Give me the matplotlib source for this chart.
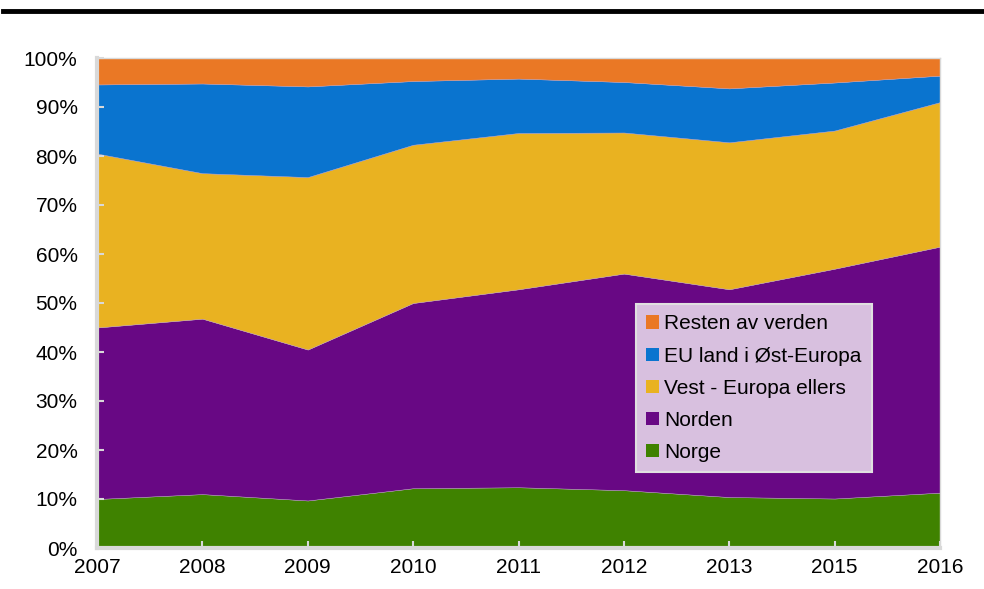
import numpy as np
import matplotlib.pyplot as plt
from matplotlib.patches import Patch

plt.rcParams['font.family'] = ['Liberation Sans', 'DejaVu Sans']

years = ['2007', '2008', '2009', '2010', '2011', '2012', '2013', '2015', '2016']

# cumulative tops (%)
top_norge = [10.0, 11.0, 9.7, 12.2, 12.4, 11.8, 10.4, 10.1, 11.3]
top_norden = [45.0, 46.8, 40.5, 50.0, 52.8, 56.0, 52.8, 57.0, 61.5]
top_vest = [80.5, 76.5, 75.7, 82.3, 84.7, 84.8, 82.8, 85.2, 91.0]
top_eu_ost = [94.6, 94.8, 94.2, 95.3, 95.8, 95.1, 93.8, 95.0, 96.4]
top_resten = [100.0] * 9

labels = ['Norge', 'Norden', 'Vest - Europa ellers', 'EU land i Øst-Europa', 'Resten av verden']
colors = ['#3f8200', '#680884', '#e9b221', '#0a74cf', '#ea7825']

tops = np.array([top_norge, top_norden, top_vest, top_eu_ost, top_resten])
shares = np.diff(np.vstack([np.zeros(len(years)), tops]), axis=0)

fig = plt.figure(figsize=(9.84, 5.89), dpi=100)
ax = fig.add_axes([97 / 984, 1 - 548 / 589, (940 - 97) / 984, (548 - 58) / 589])

x = np.arange(len(years))
ax.stackplot(x, shares, colors=colors, labels=labels, edgecolor='#b8a0c0', linewidth=0.3)

ax.set_xlim(0, len(years) - 1)
ax.set_ylim(0, 100)
ax.set_xticks(x)
ax.set_xticklabels(years)
ax.set_yticks(np.arange(0, 101, 10))
ax.set_yticklabels([f'{v}%' for v in range(0, 101, 10)])
ax.tick_params(axis='both', labelsize=15, colors='#d9d9d9', labelcolor='black',
               direction='in', length=5, width=1.5)
ax.tick_params(axis='x', pad=7)
ax.tick_params(axis='y', pad=14)

for side in ['left', 'bottom']:
    ax.spines[side].set_color('#d9d9d9')
    ax.spines[side].set_linewidth(3)
for side in ['top', 'right']:
    ax.spines[side].set_color('#d9d9d9')
    ax.spines[side].set_linewidth(1)

handles = [Patch(facecolor=c, label=l) for c, l in zip(colors[::-1], labels[::-1])]
leg = ax.legend(handles=handles, loc='upper left', bbox_to_anchor=((636 - 97) / 843, (548 - 304) / 490),
                fontsize=15, frameon=True, fancybox=False, handlelength=0.6, handleheight=0.6,
                handletextpad=0.25, labelspacing=0.63, borderpad=0.5, borderaxespad=0)
leg.get_frame().set_facecolor('#d8c0df')
leg.get_frame().set_edgecolor('#e0e0e0')
leg.get_frame().set_linewidth(1.5)
leg.get_frame().set_alpha(1)

# thick rule at the top
fig.add_artist(plt.Line2D([3 / 984, 1], [1 - 11 / 589, 1 - 11 / 589], color='black', linewidth=3.5,
                          transform=fig.transFigure))

fig.savefig('out.png', dpi=100)
